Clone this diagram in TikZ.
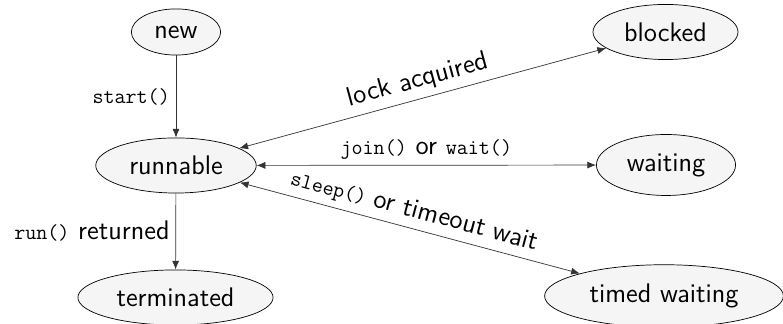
\documentclass[tikz,border=0pt]{standalone}
\usepackage{tikz}
\usetikzlibrary{shapes.geometric,arrows.meta}
\newcommand{\code}[1]{{\fontsize{12.2}{14}\selectfont\ttfamily #1}}

\begin{document}
\begin{tikzpicture}[
	font=\sffamily\fontsize{15.3}{18}\selectfont,
	state/.style={ellipse,draw,fill=gray!8,inner sep=5.7pt},
	trans/.style={{Latex[length=5pt,width=4pt]}-{Latex[length=5pt,width=4pt]},draw=black!80},
	go/.style={-{Latex[length=5pt,width=4pt]},draw=black!80}]
			\useasboundingbox (0,0) rectangle (15.66,6.48);
			% Thread States
			\node[state] (New) at (3.52,5.84) {new};
			\node[state] (Runnable) at (3.52,3.17) {runnable};
			\node[state] (Terminated) at (3.51,0.53) {terminated};
			\node[state] (Blocked) at (13.31,5.84) {blocked};
			\node[state] (Waiting) at (13.32,3.18) {waiting};
			\node[state] (TimedWaiting) at (13.28,0.56) {timed waiting};
			
			\draw[go] (New) to node[midway,left] {\code{start()}} (Runnable);
			\draw[go] (Runnable) to node[midway,left] {\code{run()} returned} (Terminated);
			\draw[trans] (Runnable) to node[midway,above,sloped] {lock acquired} (Blocked);
			\draw[trans] (Runnable) to node[midway,above] {\code{join()} or \code{wait()}} (Waiting);
			\draw[trans] (Runnable) to node[midway,above,sloped] {\code{sleep()} or timeout wait} (TimedWaiting);
			
			\end{tikzpicture}
\end{document}
